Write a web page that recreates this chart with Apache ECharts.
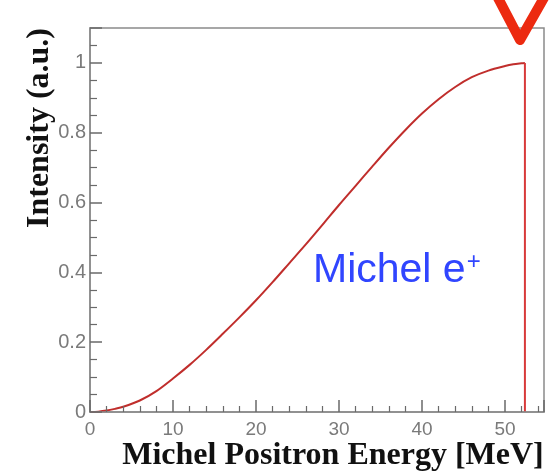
<!DOCTYPE html>
<html>
<head>
<meta charset="utf-8">
<script src="https://cdn.jsdelivr.net/npm/echarts@6/dist/echarts.min.js"></script>
<style>
html,body{margin:0;padding:0;background:#fff;}
#c{width:555px;height:475px;}
</style>
</head>
<body>
<div id="c"></div>
<script>
// Michel positron energy spectrum
var energy = [0, 1, 2, 3, 4, 6, 8, 10, 12, 14, 16, 18, 20, 22, 24, 26, 28, 30, 32, 34, 36, 38, 40, 42, 44, 46, 48, 50, 51, 52, 52.4];
var intensity = [0, 0.001, 0.004, 0.009, 0.015, 0.033, 0.060, 0.096, 0.135, 0.178, 0.224, 0.271, 0.320, 0.372, 0.426, 0.480, 0.536, 0.593, 0.648, 0.703, 0.757, 0.808, 0.855, 0.896, 0.931, 0.959, 0.978, 0.991, 0.996, 0.999, 1.0];
var edgeEnergy = [52.4, 52.4];
var edgeIntensity = [1.0, 0];
var xTicks = [0, 10, 20, 30, 40, 50];
var yTicks = [0, 0.2, 0.4, 0.6, 0.8, 1];
var xTitle = 'Michel Positron Energy [MeV]';
var yTitle = 'Intensity (a.u.)';
var seriesLabel = 'Michel e';

var data = energy.map(function (e, i) { return [e, intensity[i]]; });
var edge = edgeEnergy.map(function (e, i) { return [e, edgeIntensity[i]]; });
var chart = echarts.init(document.getElementById('c'));
var axisGray = '#8a8a8a';
var labelGray = '#7a7a7a';
var tickGray = '#6a6a6a';
chart.setOption({
  animation: false,
  grid: { left: 90, top: 28, right: 11, bottom: 63, show: true, backgroundColor: 'rgba(0,0,0,0)', borderColor: axisGray, borderWidth: 1.5, z: 0 },
  xAxis: {
    type: 'value', min: 0, max: 54.7, interval: 10, z: 5,
    axisLine: { show: true, onZero: false, lineStyle: { color: axisGray, width: 1.5 } },
    axisTick: { show: true, inside: true, length: 12, lineStyle: { color: tickGray, width: 1.5 } },
    minorTick: { show: true, splitNumber: 5, length: 6, lineStyle: { color: tickGray, width: 1.2 } },
    splitLine: { show: false },
    minorSplitLine: { show: false },
    axisLabel: {
      color: labelGray, fontFamily: 'Liberation Sans, Arial, sans-serif', fontSize: 19, margin: 8,
      formatter: function (v) { return xTicks.indexOf(v) >= 0 ? String(v) : ''; },
      showMaxLabel: false
    }
  },
  yAxis: {
    type: 'value', min: 0, max: 1.1, interval: 0.2, z: 5,
    axisLine: { show: true, onZero: false, lineStyle: { color: axisGray, width: 1.5 } },
    axisTick: { show: true, inside: true, length: 12, lineStyle: { color: tickGray, width: 1.5 } },
    minorTick: { show: true, splitNumber: 4, length: 7, lineStyle: { color: tickGray, width: 1.2 } },
    splitLine: { show: false },
    minorSplitLine: { show: false },
    axisLabel: {
      color: labelGray, fontFamily: 'Liberation Sans, Arial, sans-serif', fontSize: 20, margin: 4,
      formatter: function (v) {
        for (var i = 0; i < yTicks.length; i++) { if (Math.abs(yTicks[i] - v) < 1e-9) return String(yTicks[i]); }
        return '';
      },
      showMaxLabel: false
    }
  },
  series: [{
    type: 'line', data: data, showSymbol: false, symbol: 'none', smooth: 0.3,
    lineStyle: { color: '#c02e2c', width: 2 }, z: 3
  }, {
    type: 'line', data: edge, showSymbol: false, symbol: 'none',
    lineStyle: { color: '#d83a3a', width: 2 }, z: 3
  }],
  graphic: [
    {
      type: 'text', left: 313, top: 250,
      style: {
        text: '{a|' + seriesLabel + '}{s|+}',
        rich: {
          a: { fontSize: 41, fontFamily: 'Liberation Sans, Arial, sans-serif', fill: '#3045ff', color: '#3045ff' },
          s: { fontSize: 24, fontFamily: 'Liberation Sans, Arial, sans-serif', fill: '#3045ff', color: '#3045ff', verticalAlign: 'top', padding: [0, 0, 14, 1] }
        }
      }
    },
    {
      type: 'text', x: 333, y: 456,
      style: { text: xTitle, font: 'bold 32px "Liberation Serif", "Times New Roman", serif', fill: '#111', textAlign: 'center', textVerticalAlign: 'middle' }
    },
    {
      type: 'text', x: 40, y: 128, rotation: Math.PI / 2,
      style: { text: yTitle, font: 'bold 32px "Liberation Serif", "Times New Roman", serif', fill: '#111', textAlign: 'center', textVerticalAlign: 'middle' }
    },
    {
      type: 'polyline',
      shape: { points: [[497, -4], [520, 40], [545, -4]] },
      style: { stroke: '#ec2a10', lineWidth: 10, fill: null, lineJoin: 'round', lineCap: 'round' },
      z: 10
    }
  ]
});
</script>
</body>
</html>
